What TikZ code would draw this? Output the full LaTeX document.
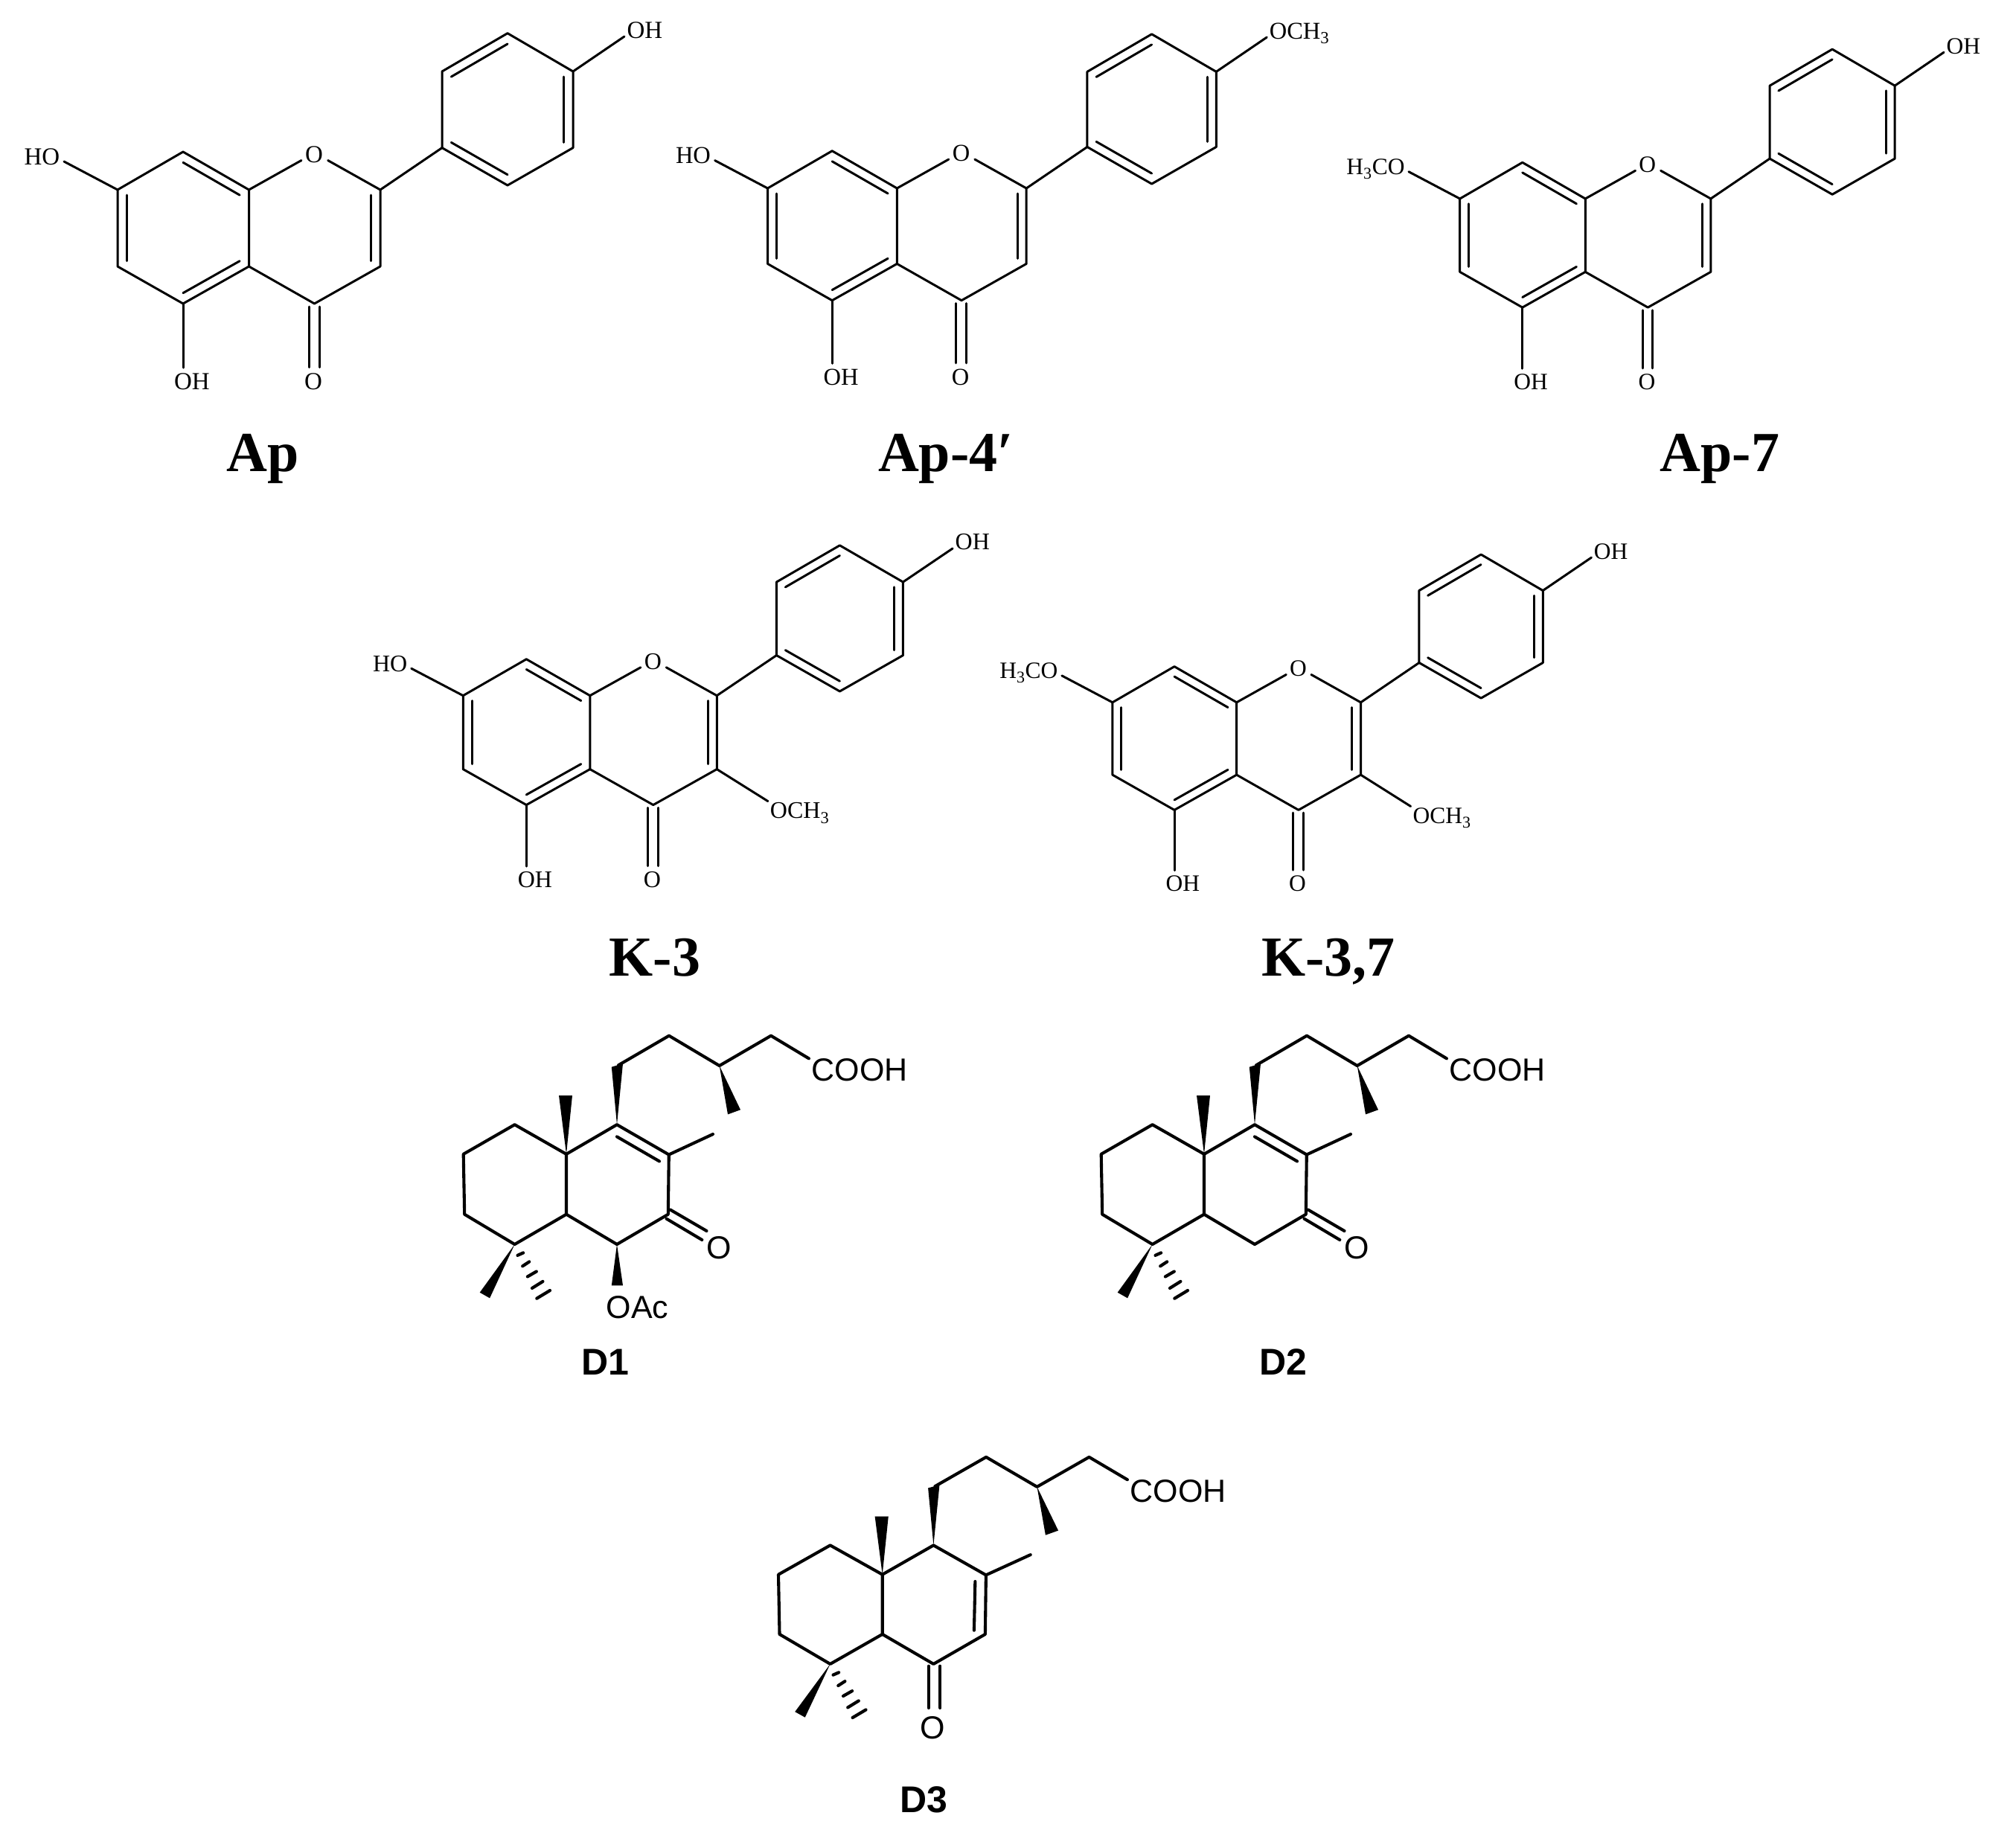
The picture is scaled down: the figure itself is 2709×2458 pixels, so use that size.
\documentclass[tikz,border=0pt]{standalone}
\usepackage{fontspec}
\setmainfont{Liberation Serif}
\newfontfamily\arialf{Liberation Sans}
\usetikzlibrary{calc}
\tikzset{
  bondf/.style={draw=black,line width=3pt,line cap=round,line join=round},
  bondd/.style={draw=black,line width=4.1pt,line cap=round,line join=round},
  hashd/.style={draw=black,line width=4.2pt,line cap=round},
  wedged/.style={fill=black,draw=none},
  atomf/.style={inner sep=0pt,text=black},
  atomd/.style={inner sep=0pt,text=black,font=\arialf\fontsize{43}{46}\selectfont},
  namef/.style={inner sep=0pt,anchor=base,text=black,font=\bfseries\fontsize{76}{80}\selectfont},
  named/.style={inner sep=0pt,anchor=base,text=black,font=\arialf\bfseries\fontsize{50}{54}\selectfont}
}
% inner line of a double bond: both ends pulled towards the ring centre
\newcommand{\inbond}[5]{\draw[#5] ($(#1)!#4!(#3)$) -- ($(#2)!#4!(#3)$);}
% flavonoid skeleton: id, origin x, y, scale x, y, font size, 7-substituent, 4'-substituent
\newcommand{\flav}[8]{%
\begin{scope}[shift={(#2,#3)},xscale=#4,yscale=#5,
   every node/.append style={atomf,font=\fontsize{#6}{#6}\selectfont}]
  \coordinate (#1C7) at (0,0);
  \coordinate (#1C8) at (88,-51);
  \coordinate (#1C8a) at (176.5,0);
  \coordinate (#1Oa) at (247,-39.5);
  \coordinate (#1Ob) at (282.6,-39.5);
  \coordinate (#1C2) at (353,0);
  \coordinate (#1C3) at (353,103);
  \coordinate (#1C4) at (264.5,153);
  \coordinate (#1C4a) at (176.5,103);
  \coordinate (#1C5) at (88,153);
  \coordinate (#1C6) at (0,103);
  \coordinate (#1Ca) at (436,-56.4);
  \coordinate (#1Cb) at (436,-159);
  \coordinate (#1Cc) at (524,-210.3);
  \coordinate (#1Cd) at (612,-159);
  \coordinate (#1Ce) at (612,-56.4);
  \coordinate (#1Cf) at (524,-6);
  \coordinate (#1RA) at (88,51);
  \coordinate (#1RC) at (264.5,51);
  \coordinate (#1RB) at (524,-108);
  \coordinate (#1e7) at (-72,-38);
  \coordinate (#1e5) at (88,239);
  \coordinate (#1e4) at (681,-206);
  \coordinate (#1ca1) at (257,157);
  \coordinate (#1ca2) at (271,157);
  \coordinate (#1cb1) at (257,238.5);
  \coordinate (#1cb2) at (271,238.5);
  \draw[bondf] (#1C7) -- (#1C8) -- (#1C8a) -- (#1C4a) -- (#1C5) -- (#1C6) -- cycle;
  \draw[bondf] (#1C8a) -- (#1Oa);
  \draw[bondf] (#1Ob) -- (#1C2) -- (#1C3) -- (#1C4) -- (#1C4a);
  \draw[bondf] (#1C2) -- (#1Ca);
  \draw[bondf] (#1Ca) -- (#1Cb) -- (#1Cc) -- (#1Cd) -- (#1Ce) -- (#1Cf) -- cycle;
  \draw[bondf] (#1C7) -- (#1e7);
  \draw[bondf] (#1C5) -- (#1e5);
  \draw[bondf] (#1Cd) -- (#1e4);
  \draw[bondf] (#1ca1) -- (#1cb1);
  \draw[bondf] (#1ca2) -- (#1cb2);
  \inbond{#1C7}{#1C6}{#1RA}{0.14}{bondf}
  \inbond{#1C8}{#1C8a}{#1RA}{0.14}{bondf}
  \inbond{#1C4a}{#1C5}{#1RA}{0.14}{bondf}
  \inbond{#1C2}{#1C3}{#1RC}{0.14}{bondf}
  \inbond{#1Cb}{#1Cc}{#1RB}{0.14}{bondf}
  \inbond{#1Cd}{#1Ce}{#1RB}{0.14}{bondf}
  \inbond{#1Ca}{#1Cf}{#1RB}{0.14}{bondf}
  \node[anchor=base] (#1Oring) at (264,-37) {O};
  \node[anchor=base] (#1Ocarb) at (263,268.6) {O};
  \node[anchor=base] (#1OH5) at (100,268.6) {OH};
  \node[anchor=base east] (#1R7) at (-77.5,-34) {#7};
  \node[anchor=base west] (#1R4) at (684.4,-204) {#8};
\end{scope}}
% methoxy on C3, same frame as the flavonoid skeleton
\newcommand{\flavthree}[6]{%
\begin{scope}[shift={(#2,#3)},xscale=#4,yscale=#5]
  \coordinate (#1e3) at (424,147.8);
  \draw[bondf] (#1C3) -- (#1e3);
  \node[atomf,anchor=base west,font=\fontsize{#6}{#6}\selectfont] (#1R3) at (427,172) {OCH\textsubscript{3}};
\end{scope}}
% diterpene skeleton: id, origin x, y, scale x, y
\newcommand{\dskel}[5]{%
\begin{scope}[shift={(#2,#3)},xscale=#4,yscale=#5]
  \coordinate (#1C10) at (0,0);
  \coordinate (#1C1) at (-69.4,-39.6);
  \coordinate (#1C2) at (-138.3,0);
  \coordinate (#1C3) at (-136.8,80.9);
  \coordinate (#1C4) at (-69.4,121.2);
  \coordinate (#1C5) at (0,80.9);
  \coordinate (#1C6) at (68,121.2);
  \coordinate (#1C7) at (136.8,80.9);
  \coordinate (#1C8) at (137.8,0.7);
  \coordinate (#1C9) at (68,-39.6);
  \coordinate (#1ma) at (-10,-78.8);
  \coordinate (#1mb) at (8,-78.8);
  \coordinate (#1wa) at (60.8,-117.1);
  \coordinate (#1wb) at (76,-121.6);
  \coordinate (#1c1) at (70,-119.5);
  \coordinate (#1c2) at (138,-159.1);
  \coordinate (#1c3) at (205.7,-118.8);
  \coordinate (#1c4) at (275,-159.1);
  \coordinate (#1c5) at (325.9,-128.5);
  \coordinate (#1xa) at (217,-53.4);
  \coordinate (#1xb) at (234,-59.6);
  \coordinate (#1m8) at (197,-26.8);
  \coordinate (#1ya) at (-116.3,185.9);
  \coordinate (#1yb) at (-102.9,193.5);
  \coordinate (#1s1a) at (-65.5,136);   \coordinate (#1s1b) at (-57.9,132.6);
  \coordinate (#1s2a) at (-58.8,150.5); \coordinate (#1s2b) at (-49.8,144.6);
  \coordinate (#1s3a) at (-52.1,164.6); \coordinate (#1s3b) at (-40.2,157.7);
  \coordinate (#1s4a) at (-46,180.1);   \coordinate (#1s4b) at (-31.6,171.1);
  \coordinate (#1s5a) at (-39.7,193.9); \coordinate (#1s5b) at (-22,183.2);
  \draw[bondd] (#1C10) -- (#1C1) -- (#1C2) -- (#1C3) -- (#1C4) -- (#1C5) -- cycle;
  \draw[bondd] (#1C5) -- (#1C6) -- (#1C7) -- (#1C8) -- (#1C9) -- (#1C10);
  \draw[bondd] (#1c1) -- (#1c2) -- (#1c3) -- (#1c4) -- (#1c5);
  \draw[bondd] (#1C8) -- (#1m8);
  \fill[wedged] (#1C10) -- (#1ma) -- (#1mb) -- cycle;
  \fill[wedged] (#1C9) -- (#1wa) -- (#1wb) -- cycle;
  \fill[wedged] (#1c3) -- (#1xa) -- (#1xb) -- cycle;
  \fill[wedged] (#1C4) -- (#1ya) -- (#1yb) -- cycle;
  \draw[hashd] (#1s1a) -- (#1s1b);
  \draw[hashd] (#1s2a) -- (#1s2b);
  \draw[hashd] (#1s3a) -- (#1s3b);
  \draw[hashd] (#1s4a) -- (#1s4b);
  \draw[hashd] (#1s5a) -- (#1s5b);
  \node[atomd,anchor=base west] (#1acid) at (329.7,-98.2) {COOH};
\end{scope}}
% C8=C9 and C7=O of D1 and D2
\newcommand{\dketo}[3]{%
\begin{scope}[shift={(#2,#3)}]
  \coordinate (#1ia) at (68,-23.4);
  \coordinate (#1ib) at (125,9.6);
  \coordinate (#1ka) at (139.7,74.7);
  \coordinate (#1kb) at (188.5,103.2);
  \coordinate (#1kc) at (134.5,86.8);
  \coordinate (#1kd) at (182.3,115.2);
  \draw[bondd] (#1ia) -- (#1ib);
  \draw[bondd] (#1ka) -- (#1kb);
  \draw[bondd] (#1kc) -- (#1kd);
  \node[atomd,anchor=base] (#1oxo) at (205,140.5) {O};
\end{scope}}
\begin{document}
\begin{tikzpicture}[x=1pt,y=-1pt]
\useasboundingbox (0,0) rectangle (2709,2458);
\fill[white] (0,0) rectangle (2709,2458);
% flavonoids
\flav{Ap}{158}{255}{1}{1}{33}{HO}{OH}
\flav{Bp}{1031.5}{253}{0.985}{0.985}{32.5}{HO}{OCH\textsubscript{3}}
\flav{Cp}{1961.7}{267}{0.955}{0.955}{31.5}{H\textsubscript{3}CO}{OH}
\flav{Dp}{622.3}{934.7}{0.966}{0.96}{32}{HO}{OH}
\flavthree{Dp}{622.3}{934.7}{0.966}{0.96}{32}
\flav{Ep}{1494.9}{943.8}{0.945}{0.945}{31.5}{H\textsubscript{3}CO}{OH}
\flavthree{Ep}{1494.9}{943.8}{0.945}{0.945}{31.5}
\node[namef] (nAp) at (353,633) {Ap};
\node[namef] (nBp) at (1271,633) {Ap-4′};
\node[namef] (nCp) at (2311,633) {Ap-7};
\node[namef] (nDp) at (880,1311) {K-3};
\node[namef] (nEp) at (1785,1311) {K-3,7};
% diterpenes
\dskel{Da}{761}{1550.8}{1}{1}
\dketo{Da}{761}{1550.8}
\begin{scope}[shift={(761,1550.8)}]
  \coordinate (Daoa) at (60.8,176.6);
  \coordinate (Daob) at (76,176.6);
  \fill[wedged] (DaC6) -- (Daoa) -- (Daob) -- cycle;
  \node[atomd,anchor=base west] (DaOAc) at (53.6,220.2) {OAc};
\end{scope}
\dskel{Db}{1618}{1550.8}{1}{1}
\dketo{Db}{1618}{1550.8}
\dskel{Dc}{1185.7}{2115.7}{1.01}{0.992}
\begin{scope}[shift={(1185.7,2115.7)},xscale=1.01,yscale=0.992]
  \coordinate (Dcia) at (123.4,9.4);
  \coordinate (Dcib) at (122,75.6);
  \coordinate (Dcka) at (61.5,124);
  \coordinate (Dckb) at (61.5,180.7);
  \coordinate (Dckc) at (76.9,124);
  \coordinate (Dckd) at (76.9,180.7);
  \draw[bondd] (Dcia) -- (Dcib);
  \draw[bondd] (Dcka) -- (Dckb);
  \draw[bondd] (Dckc) -- (Dckd);
  \node[atomd,anchor=base] (Dcoxo) at (67.2,222.8) {O};
\end{scope}
\node[named] (nDa) at (813,1847) {D1};
\node[named] (nDb) at (1724,1847) {D2};
\node[named] (nDc) at (1241.5,2435) {D3};
\end{tikzpicture}
\end{document}
